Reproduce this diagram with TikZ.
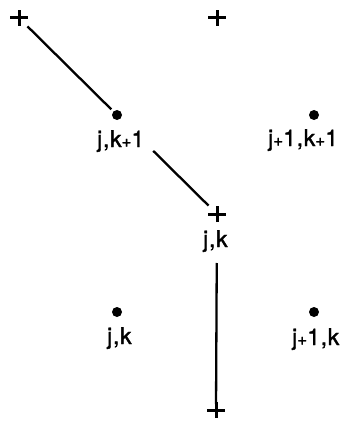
\documentclass[tikz,border=0pt]{standalone}
\usepackage{fontspec}
\setmainfont{TeX Gyre Heros}[LetterSpace=3, FakeBold=1.5]
\newcommand{\pl}{{\fontsize{17}{17}\selectfont +}}
\tikzset{
  gridpt/.style={inner sep=0pt, minimum size=0pt},
  plusarm/.style={line width=3pt},
  cellpt/.style={circle, fill, minimum size=10pt, inner sep=0pt},
  lbl/.style={anchor=base west, inner sep=0pt, font=\fontsize{23}{23}\selectfont},
  link/.style={line width=2.3pt}
}
\begin{document}
\begin{tikzpicture}[x=1pt, y=-1pt]
  \useasboundingbox (0,0) rectangle (360,425);
  % grid corner points
  \node[gridpt] (p1) at (19,18) {};
  \node[gridpt] (p2) at (217,18) {};
  \node[gridpt] (p3) at (217,214) {};
  \node[gridpt] (p4) at (216,410) {};
  \foreach \p in {p1,p2,p3,p4} {
    \draw[plusarm] ([xshift=-9pt]\p.center) -- ([xshift=9pt]\p.center);
    \draw[plusarm] ([yshift=-8pt]\p.center) -- ([yshift=8pt]\p.center);
  }
  % cell centres
  \node[cellpt] (d1) at (117,115) {};
  \node[cellpt] (d2) at (314,115) {};
  \node[cellpt] (d3) at (117,312) {};
  \node[cellpt] (d4) at (314,312) {};
  % labels
  \node[lbl] (l1) at (97,147) {j,k\pl1};
  \node[lbl] (l2) at (268,146) {j\pl1,k\pl1};
  \node[lbl] (l3) at (203,247) {j,k};
  \node[lbl] (l4) at (107,344) {j,k};
  \node[lbl] (l5) at (292,345) {j\pl1,k};
  % connectors
  \draw[link, shorten <=12pt, shorten >=8pt] (p1.center) -- (d1.center);
  \draw[link, shorten <=51pt, shorten >=12pt] (d1.center) -- (p3.center);
  \draw[link, shorten <=49pt, shorten >=6pt] (p3.center) -- (p4.center);
\end{tikzpicture}
\end{document}
